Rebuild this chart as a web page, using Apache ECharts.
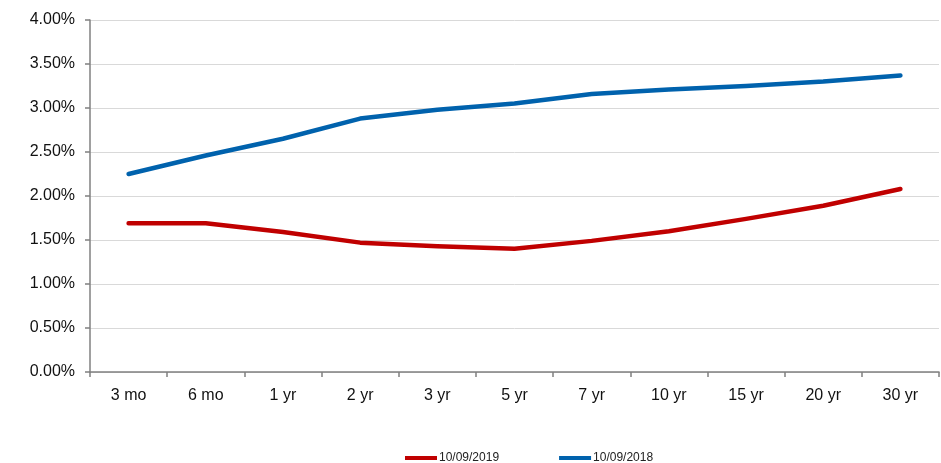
<!DOCTYPE html>
<html>
<head>
<meta charset="utf-8">
<script src="https://cdn.jsdelivr.net/npm/echarts@6/dist/echarts.min.js"></script>
<style>
html,body{margin:0;padding:0;background:#fff;}
#chart{width:941px;height:463px;}
</style>
</head>
<body>
<div id="chart"></div>
<script>
var categories = ['3 mo','6 mo','1 yr','2 yr','3 yr','5 yr','7 yr','10 yr','15 yr','20 yr','30 yr'];
var yields2019 = [1.69,1.69,1.59,1.47,1.43,1.40,1.49,1.60,1.74,1.89,2.08];
var yields2018 = [2.25,2.46,2.65,2.88,2.98,3.05,3.16,3.21,3.25,3.30,3.37];
var seriesNames = ['10/09/2019','10/09/2018'];

var chart = echarts.init(document.getElementById('chart'));
chart.setOption({
  animation: false,
  textStyle: {fontFamily: 'Liberation Sans, Arial, sans-serif'},
  grid: {left: 90, right: 2, top: 20, bottom: 91, containLabel: false},
  legend: {
    left: 400, top: 447,
    icon: 'rect', itemWidth: 32, itemHeight: 4, itemGap: 60,
    textStyle: {fontSize: 12, color: '#222', padding: [0,0,0,-3]},
    data: seriesNames
  },
  xAxis: {
    type: 'category', data: categories, boundaryGap: true,
    axisLine: {lineStyle: {color: '#808080', width: 1.5}},
    axisTick: {show: true, length: 5, lineStyle: {color: '#808080', width: 1.5}},
    axisLabel: {fontSize: 16, color: '#111', margin: 16}
  },
  yAxis: {
    type: 'value', min: 0, max: 4, interval: 0.5,
    axisLine: {show: true, lineStyle: {color: '#808080', width: 1.5}},
    axisTick: {show: true, length: 5, lineStyle: {color: '#808080', width: 1.5}},
    splitLine: {lineStyle: {color: '#d9d9d9', width: 1}},
    axisLabel: {fontSize: 16, color: '#111', margin: 15, formatter: function(v){return v.toFixed(2)+'%';}}
  },
  series: [
    {name: seriesNames[0], type: 'line', data: yields2019, symbol: 'none',
     lineStyle: {color: '#c00000', width: 4.5, cap: 'round', join: 'round'}, itemStyle: {color: '#c00000'}},
    {name: seriesNames[1], type: 'line', data: yields2018, symbol: 'none',
     lineStyle: {color: '#0062ad', width: 4.5, cap: 'round', join: 'round'}, itemStyle: {color: '#0062ad'}}
  ]
});
</script>
</body>
</html>
